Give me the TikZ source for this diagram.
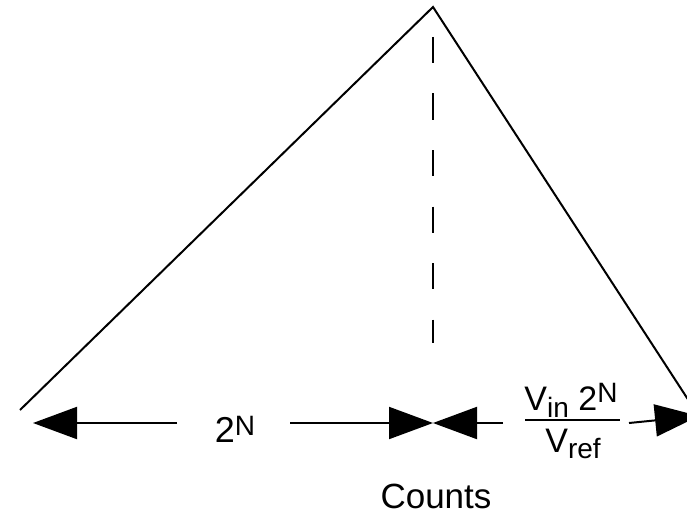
\documentclass[tikz,border=0pt]{standalone}
\usepackage{fontspec}
\setmainfont{Liberation Sans}
\usetikzlibrary{arrows.meta}
\newcommand\myup[2]{\raisebox{#1}{\fontsize{28}{28}\selectfont #2}}
\begin{document}
\begin{tikzpicture}[x=1pt,y=-1pt,
  ln/.style={line width=2pt},
  tri/.style={-{Triangle[length=44pt,width=32pt]}},
  lbl/.style={font=\fontsize{36}{40}\selectfont, inner sep=0pt},
  frac/.style={font=\fontsize{34}{38}\selectfont, inner sep=0pt}]
\useasboundingbox (0,0) rectangle (687,516);
% triangle
\coordinate (A) at (433,7);
\coordinate (L) at (20,410);
\coordinate (R) at (689,401);
\draw[ln] (L) -- (A) -- (R);
% dashed centre line
\coordinate (D1) at (433,37);
\coordinate (D2) at (433,343);
\draw[ln, dash pattern=on 26pt off 30.5pt] (D1) -- (D2);
% arrows
\coordinate (l1) at (177,423);
\coordinate (l0) at (33,423);
\draw[ln,tri] (l1) -- (l0);
\node[lbl, anchor=base] (twoN) at (235,442) {2\myup{7pt}{N}};
\coordinate (m0) at (290,423);
\coordinate (C) at (433,423);
\coordinate (m1) at (503,423);
\draw[ln,tri] (m0) -- (C);
\draw[ln,tri] (m1) -- (C);
% fraction
\node[frac, anchor=base] (num) at (571,410) {V\myup{-7pt}{in} 2\myup{8pt}{N}};
\node[frac, anchor=base] (den) at (573,452) {V\myup{-6pt}{ref}};
\coordinate (f0) at (525,420);
\coordinate (f1) at (620,420);
\draw[ln] (f0) -- (f1);
\coordinate (r0) at (629,423);
\coordinate (r1) at (699,416);
\draw[ln,tri] (r0) -- (r1);
% label
\node[font=\fontsize{35}{40}\selectfont, inner sep=0pt, anchor=base] (counts) at (436,508) {Counts};
\end{tikzpicture}
\end{document}
